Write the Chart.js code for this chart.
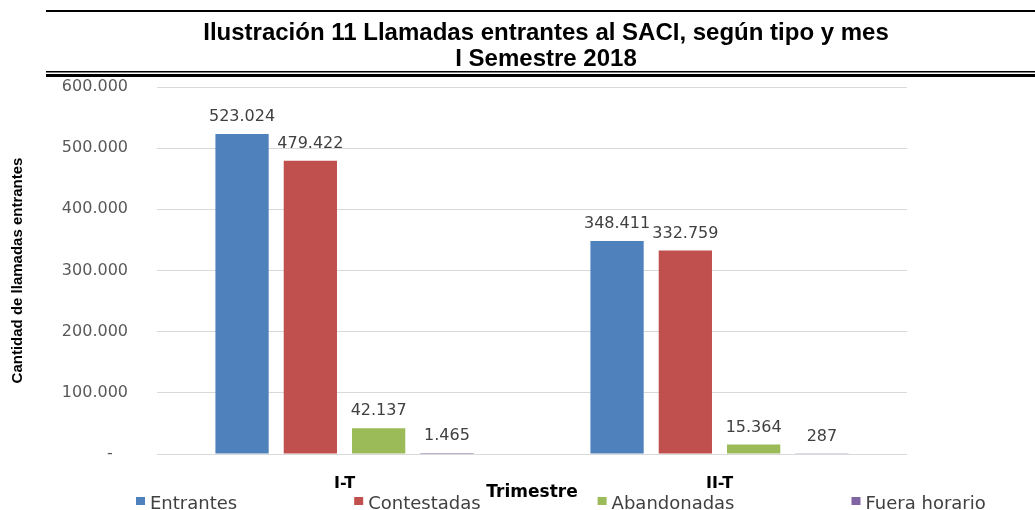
<!DOCTYPE html>
<html>
<head>
<meta charset="utf-8">
<script src="https://cdn.jsdelivr.net/npm/chart.js@4.4.1/dist/chart.umd.min.js"></script>
<style>
    body { margin: 0; background: #fff; }
    #wrap { width: 1035px; height: 510px; position: relative; }
</style>
</head>
<body>
<div id="wrap"><canvas id="llamadasChart"></canvas></div>
<script>
const titleLines = ['Ilustración 11 Llamadas entrantes al SACI, según tipo y mes', 'I Semestre 2018'];
const trimestres = ['I-T', 'II-T'];
const entrantes = [523024, 348411];
const contestadas = [479422, 332759];
const abandonadas = [42137, 15364];
const fueraHorario = [1465, 287];
const seriesNames = ['Entrantes', 'Contestadas', 'Abandonadas', 'Fuera horario'];
const seriesColors = ['#4F81BD', '#C0504D', '#9BBB59', '#8064A2'];

function formatMiles(value) {
    if (value === 0) return '-   ';
    return String(Math.round(value)).replace(/\B(?=(\d{3})+(?!\d))/g, '.');
}

// title band, data labels and the legend row are drawn by hand
const decorPlugin = {
    id: 'decor',
    afterDatasetsDraw(chart) {
        const ctx = chart.ctx;
        ctx.save();
        ctx.font = '16px "DejaVu Sans"';
        ctx.fillStyle = '#404040';
        ctx.textAlign = 'center';
        ctx.textBaseline = 'middle';
        chart.data.datasets.forEach((ds, i) => {
            const meta = chart.getDatasetMeta(i);
            meta.data.forEach((bar, j) => {
                ctx.fillText(formatMiles(ds.data[j]), bar.x, bar.y - 17);
            });
        });
        ctx.restore();
    },
    afterDraw(chart) {
        const ctx = chart.ctx;
        const w = chart.width;
        ctx.save();
        ctx.fillStyle = '#000';
        ctx.fillRect(46, 10, w - 46, 2);
        ctx.fillRect(46, 71, w - 46, 1.5);
        ctx.fillRect(46, 74, w - 46, 3);

        ctx.font = 'bold 24px "Liberation Sans"';
        ctx.textAlign = 'center';
        ctx.textBaseline = 'alphabetic';
        ctx.fillText(titleLines[0], 546, 40);
        ctx.fillText(titleLines[1], 546, 66);

        // legend: boxes + labels, fixed gap between items
        ctx.font = '18px "DejaVu Sans"';
        ctx.textAlign = 'left';
        let x = 136;
        chart.data.datasets.forEach(ds => {
            ctx.fillStyle = ds.backgroundColor;
            ctx.fillRect(x, 497, 9, 8);
            ctx.fillStyle = '#404040';
            ctx.fillText(ds.label, x + 14, 509);
            x += 14 + ctx.measureText(ds.label).width + 117;
        });
        ctx.restore();
    }
};

const ctx = document.getElementById('llamadasChart').getContext('2d');

const datasets = [entrantes, contestadas, abandonadas, fueraHorario].map((values, i) => ({
    label: seriesNames[i],
    data: values,
    backgroundColor: seriesColors[i],
    borderWidth: 0,
    categoryPercentage: 0.7285,
    barPercentage: 0.78
}));

new Chart(ctx, {
    type: 'bar',
    data: {
        labels: trimestres,
        datasets: datasets
    },
    options: {
        responsive: true,
        maintainAspectRatio: false,
        devicePixelRatio: 1,
        animation: false,
        layout: {
            padding: { left: 0, right: 128, top: 87, bottom: 7 }
        },
        scales: {
            x: {
                afterFit(scale) { scale.height = 49; },
                grid: { display: false },
                border: { display: false },
                ticks: {
                    color: '#000',
                    padding: 12,
                    font: { family: 'DejaVu Sans', size: 16, weight: 'bold' }
                },
                title: {
                    display: true,
                    text: 'Trimestre',
                    color: '#000',
                    padding: { top: 7, bottom: 0 },
                    font: { family: 'DejaVu Sans', size: 17, weight: 'bold' }
                }
            },
            y: {
                afterFit(scale) { scale.width = 157; },
                min: 0,
                max: 600000,
                border: { display: false },
                grid: {
                    color: '#d9d9d9',
                    drawTicks: false
                },
                ticks: {
                    stepSize: 100000,
                    padding: 29,
                    color: '#595959',
                    font: { family: 'DejaVu Sans', size: 16 },
                    callback: value => formatMiles(value)
                },
                title: {
                    display: true,
                    text: 'Cantidad de llamadas entrantes',
                    color: '#000',
                    padding: { top: 9, bottom: 0 },
                    font: { family: 'Liberation Sans', size: 15, weight: 'bold' }
                }
            }
        },
        plugins: {
            legend: { display: false },
            title: { display: false },
            tooltip: { enabled: false }
        }
    },
    plugins: [decorPlugin]
});
</script>
</body>
</html>
